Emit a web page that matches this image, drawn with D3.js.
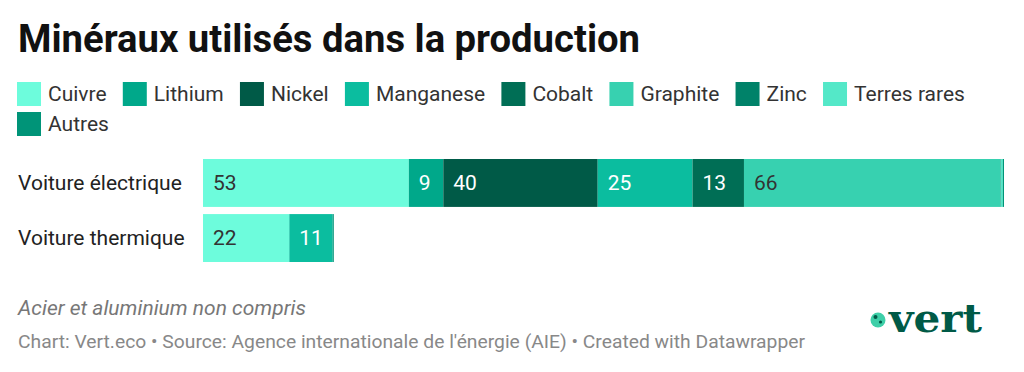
<!DOCTYPE html>
<html>
<head>
<meta charset="utf-8">
<script src="https://cdn.jsdelivr.net/npm/d3@7"></script>
<style>
  body { margin: 0; background: #fff; }
  text { font-family: Roboto, 'Noto Sans', sans-serif; }
</style>
</head>
<body>
<div id="chart"></div>
<script>
// Data (kg per vehicle)
const minerals = ['Cuivre', 'Lithium', 'Nickel', 'Manganese', 'Cobalt', 'Graphite', 'Zinc', 'Terres rares', 'Autres'];
const mineralColors = ['#6dfcdc', '#00a88a', '#005a47', '#0bbd9f', '#006e55', '#37d1b0', '#008269', '#54e8c8', '#009478'];
const vehicles = ['Voiture électrique', 'Voiture thermique'];
const electricValues = [53.2, 8.9, 39.9, 24.5, 13.3, 66.3, 0.1, 0.5, 0.3];
const thermalValues = [22.3, 0, 0, 11.2, 0, 0, 0, 0, 0.3];
const darkLabelMinerals = ['Cuivre', 'Graphite', 'Terres rares'];

const width = 1024, height = 372;
const margin = {left: 203, right: 20};

const svg = d3.select('#chart').append('svg')
  .attr('width', width)
  .attr('height', height);

// Title
svg.append('text')
  .attr('x', 18)
  .attr('y', 52)
  .attr('font-size', 38)
  .attr('font-weight', 700)
  .attr('fill', '#111')
  .attr('textLength', 622)
  .attr('lengthAdjust', 'spacingAndGlyphs')
  .text('Minéraux utilisés dans la production');

const color = d3.scaleOrdinal(minerals, mineralColors);

// Legend, wrapped in rows
const legend = svg.append('g').attr('class', 'legend');
let lx = 17, ly = 82;
minerals.forEach(m => {
  const item = legend.append('g');
  const label = item.append('text')
    .attr('x', 31)
    .attr('y', 19)
    .attr('font-size', 21)
    .attr('fill', '#333')
    .text(m);
  const w = 31 + label.node().getComputedTextLength();
  if (lx + w > 1000) {
    lx = 17;
    ly += 30;
  }
  item.attr('transform', 'translate(' + lx + ',' + ly + ')');
  item.insert('rect', 'text')
    .attr('width', 24)
    .attr('height', 24)
    .attr('fill', color(m));
  lx += w + 16.2;
});

// Bars
const rows = vehicles.map((v, i) => {
  const values = i === 0 ? electricValues : thermalValues;
  let acc = 0;
  const segs = minerals.map((m, j) => {
    const s = {mineral: m, value: values[j], x0: acc};
    acc += values[j];
    s.x1 = acc;
    return s;
  }).filter(s => s.value > 0);
  return {vehicle: v, segs: segs};
});

const x = d3.scaleLinear()
  .domain([0, d3.sum(electricValues)])
  .range([margin.left, width - margin.right]);

const y = d3.scaleBand()
  .domain(vehicles)
  .range([159, 262])
  .paddingInner(0.13);

const rowG = svg.selectAll('.row')
  .data(rows)
  .enter().append('g')
  .attr('class', 'row')
  .attr('transform', d => 'translate(0,' + y(d.vehicle) + ')');

rowG.append('text')
  .attr('x', 18)
  .attr('y', y.bandwidth() / 2)
  .attr('dy', '0.35em')
  .attr('font-size', 21)
  .attr('fill', '#222')
  .text(d => d.vehicle);

const seg = rowG.selectAll('.seg')
  .data(d => d.segs)
  .enter().append('g')
  .attr('class', 'seg');

seg.append('rect')
  .attr('x', d => x(d.x0))
  .attr('width', d => x(d.x1) - x(d.x0))
  .attr('height', y.bandwidth())
  .attr('fill', d => color(d.mineral));

seg.filter(d => x(d.x1) - x(d.x0) > 20)
  .append('text')
  .attr('x', d => x(d.x0) + 10)
  .attr('y', y.bandwidth() / 2)
  .attr('dy', '0.35em')
  .attr('font-size', 21)
  .attr('fill', d => darkLabelMinerals.indexOf(d.mineral) !== -1 ? '#333' : '#fff')
  .text(d => d3.format('.0f')(d.value));

// Notes
svg.append('text')
  .attr('x', 18)
  .attr('y', 315)
  .attr('font-size', 19.5)
  .attr('font-style', 'italic')
  .attr('fill', '#777')
  .attr('textLength', 288)
  .attr('lengthAdjust', 'spacingAndGlyphs')
  .text('Acier et aluminium non compris');

svg.append('text')
  .attr('x', 18)
  .attr('y', 348)
  .attr('font-size', 19)
  .attr('fill', '#888')
  .attr('textLength', 787)
  .attr('lengthAdjust', 'spacingAndGlyphs')
  .text('Chart: Vert.eco • Source: Agence internationale de l\'énergie (AIE) • Created with Datawrapper');

// Logo
const logo = svg.append('g').attr('transform', 'translate(870,0)');
logo.append('circle')
  .attr('cx', 8)
  .attr('cy', 320)
  .attr('r', 7.5)
  .attr('fill', '#3ecfa8');
logo.append('circle').attr('cx', 5.5).attr('cy', 317).attr('r', 2).attr('fill', '#005a47');
logo.append('circle').attr('cx', 10.5).attr('cy', 322).attr('r', 1.6).attr('fill', '#005a47');
logo.append('text')
  .attr('x', 19)
  .attr('y', 332)
  .style('font-family', "'DejaVu Serif', 'Liberation Serif', serif")
  .attr('font-size', 40)
  .attr('font-weight', 700)
  .attr('fill', '#005a47')
  .attr('textLength', 93)
  .attr('lengthAdjust', 'spacingAndGlyphs')
  .text('vert');
</script>
</body>
</html>
